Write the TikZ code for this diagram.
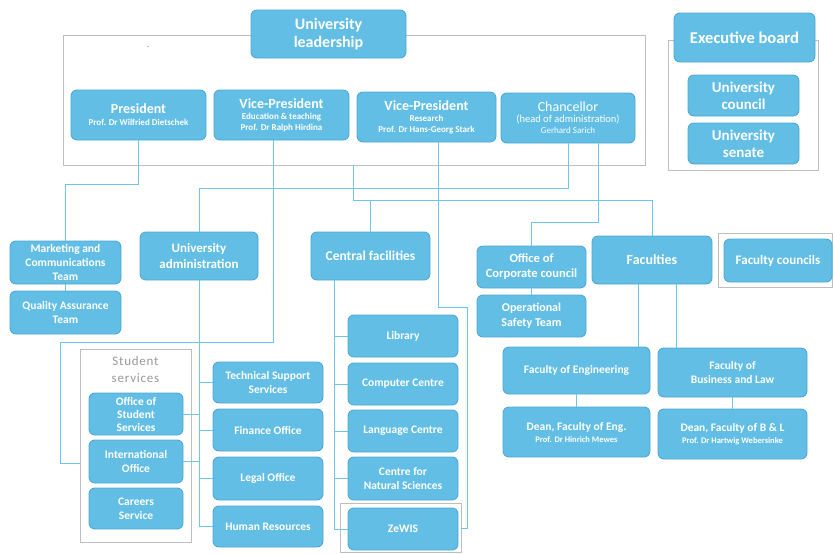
\documentclass[tikz,border=0pt]{standalone}
\usepackage{fontspec}
\setmainfont{Carlito}
\usetikzlibrary{calc}
\definecolor{bxfill}{HTML}{62BEE4}
\definecolor{bxline}{HTML}{4DA9D4}
\definecolor{lnc}{HTML}{6CC6E6}
\definecolor{frmc}{HTML}{BEBEBE}
\newcommand\fs[2]{\fontsize{#1}{#2}\selectfont}
\begin{document}
\begin{tikzpicture}[x=1pt,y=-1pt,
  sz/.style 2 args={minimum width=#1pt, minimum height=#2pt},
  bx/.style={draw=bxline, fill=bxfill, line width=0.9pt, rounded corners=6pt,
    text=white, align=center, inner sep=1pt, font=\bfseries\fs{11.5}{14}},
  frm/.style={draw=frmc, line width=0.8pt, inner sep=0pt, rectangle},
  ln/.style={draw=lnc, line width=0.9pt}]
\useasboundingbox (0,0) rectangle (833,554);

% containers
\node[frm, sz={582}{130}] (leadbox) at (354,100) {};
\node[frm, sz={150}{130}] (execbox) at (743,105) {};
\node[frm, sz={114}{54}] (fcbox) at (775,260) {};
\node[frm, sz={111}{193}] (ssbox) at (135.5,445.5) {};
\node[frm, sz={121}{49}] (zbox) at (400.5,527.5) {};
\node[text=frmc!80!black, font=\fs{13}{17}\addfontfeature{LetterSpace=6}, align=center] (sstitle) at (135.5,370) {Student\\services};
\node[text=gray, font=\fs{8}{8}] (dash) at (148,48) {-};

% top level
\node[bx, sz={155}{48}, font=\bfseries\fs{16}{18}] (lead) at (328.5,34) {University\\leadership};
\node[bx, sz={141}{49}, font=\bfseries\fs{16.5}{18}] (exec) at (744.5,37.5) {Executive board};
\node[bx, sz={111}{41}, font=\bfseries\fs{15}{17}] (ucouncil) at (743.5,95.5) {University\\council};
\node[bx, sz={111}{41}, font=\bfseries\fs{15}{17}] (usenate) at (743.5,143.5) {University\\senate};

\node[bx, sz={135}{50}, font=\bfseries\fs{9}{12}] (pres) at (138.5,115)
  {{\fs{14}{15}President}\\Prof. Dr Wilfried Dietschek};
\node[bx, sz={135}{50}, font=\bfseries\fs{9}{11}] (vped) at (281.5,115)
  {{\fs{14}{15}Vice-President}\\Education \& teaching\\Prof. Dr Ralph Hirdina};
\node[bx, sz={139}{50}, font=\bfseries\fs{9}{11}] (vpres) at (426.5,117)
  {{\fs{14}{15}Vice-President}\\Research\\Prof. Dr Hans-Georg Stark};
\node[bx, sz={134}{50}, font=\mdseries\fs{9}{11}] (chanc) at (568,118)
  {{\fs{14}{15}Chancellor}\\{\fs{10.5}{12}(head of administration)}\\Gerhard Sarich};

% second level
\node[bx, sz={111}{43}] (mkt) at (65.5,262.5) {Marketing and\\Communications\\Team};
\node[bx, sz={111}{43}] (qa) at (65.5,312.5) {Quality Assurance\\Team};
\node[bx, sz={118}{48}, font=\bfseries\fs{13}{16}] (uadmin) at (199,256) {University\\administration};
\node[bx, sz={119}{48}, font=\bfseries\fs{13.5}{16}] (cfac) at (370.5,256) {Central facilities};
\node[bx, sz={109}{42}, font=\bfseries\fs{12.5}{15}] (occ) at (531.5,267) {Office of\\Corporate council};
\node[bx, sz={109}{42}, font=\bfseries\fs{12}{15}] (ost) at (531.5,316) {Operational\\Safety Team};
\node[bx, sz={120}{48}, font=\bfseries\fs{14}{16}] (facs) at (652,260) {Faculties};
\node[bx, sz={108}{43}, font=\bfseries\fs{13}{15}] (fcouncils) at (778,260.5) {Faculty councils};

% faculties
\node[bx, sz={147}{47}] (feng) at (576.5,370.5) {Faculty of Engineering};
\node[bx, sz={149}{49}] (fbl) at (732.5,372.5) {Faculty of\\Business and Law};
\node[bx, sz={147}{50}, font=\bfseries\fs{8.5}{12}] (deng) at (576.5,432)
  {{\fs{11.5}{13}Dean, Faculty of Eng.}\\Prof. Dr Hinrich Mewes};
\node[bx, sz={149}{50}, font=\bfseries\fs{8.5}{12}] (dbl) at (732.5,434)
  {{\fs{11.5}{13}Dean, Faculty of B \& L}\\Prof. Dr Hartwig Webersinke};

% central facilities
\node[bx, sz={110}{42}] (lib) at (403,336) {Library};
\node[bx, sz={110}{42}] (comp) at (403,384) {Computer Centre};
\node[bx, sz={110}{42}] (lang) at (403,431) {Language Centre};
\node[bx, sz={110}{43}] (cns) at (403,478.5) {Centre for\\Natural Sciences};
\node[bx, sz={110}{42}] (zewis) at (403,529) {ZeWIS};

% administration
\node[bx, sz={110}{41}] (tss) at (268,382.5) {Technical Support\\Services};
\node[bx, sz={110}{42}] (fin) at (268,430) {Finance Office};
\node[bx, sz={110}{43}] (legal) at (268,478.5) {Legal Office};
\node[bx, sz={110}{41}] (hr) at (268,526.5) {Human Resources};

% student services
\node[bx, sz={94}{42}, font=\bfseries\fs{11.5}{13}] (oss) at (136,414) {Office of\\Student\\Services};
\node[bx, sz={94}{43}] (intl) at (136,461.5) {International\\Office};
\node[bx, sz={94}{41}] (careers) at (136,508.5) {Careers\\Service};

% connectors
\draw[ln] (pres.south) -- ++(0,44) -| (mkt.north);
\draw[ln] (mkt.south) -- (qa.north);

\coordinate (c2a) at (273,342);
\coordinate (c2b) at (60,463);
\draw[ln] (vped.south -| c2a) -- (c2a) -| (c2b) -- (c2b -| ssbox.west);

\coordinate (c3) at (353,200);
\draw[ln] (leadbox.south -| c3) -- (c3) -| (facs.north);
\draw[ln] (cfac.north) -- (cfac.north |- c3);

\draw[ln] (chanc.south) -- ++(0,45) -| (uadmin.north);
\coordinate (c5) at (598,222);
\draw[ln] (chanc.south -| c5) -- (c5) -| (occ.north);
\draw[ln] (occ.south) -- (ost.north);

\coordinate (c6a) at (438,307);
\coordinate (c6b) at (467,528);
\draw[ln] (vpres.south -| c6a) -- (c6a) -| (c6b) -- (c6b -| zbox.east);

\coordinate (cspine) at (334,300);
\draw[ln] (cfac.south -| cspine) |- (zewis.west);
\foreach \n in {lib,comp,lang,cns} \draw[ln] (\n.west) -- (\n.west -| cspine);

\draw[ln] (uadmin.south) |- (hr.west);
\foreach \n in {tss,fin,legal} \draw[ln] (\n.west) -- (\n.west -| uadmin.south);
\foreach \n in {oss,intl} \draw[ln] (\n.east) -- (\n.east -| uadmin.south);

\draw[ln] ([xshift=-14pt]facs.south) -- ([xshift=-14pt]facs.south |- feng.north);
\draw[ln] ([xshift=24pt]facs.south) -- ([xshift=24pt]facs.south |- fbl.north);
\draw[ln] (feng.south) -- (deng.north);
\draw[ln] (fbl.south) -- (dbl.north);
\end{tikzpicture}
\end{document}
